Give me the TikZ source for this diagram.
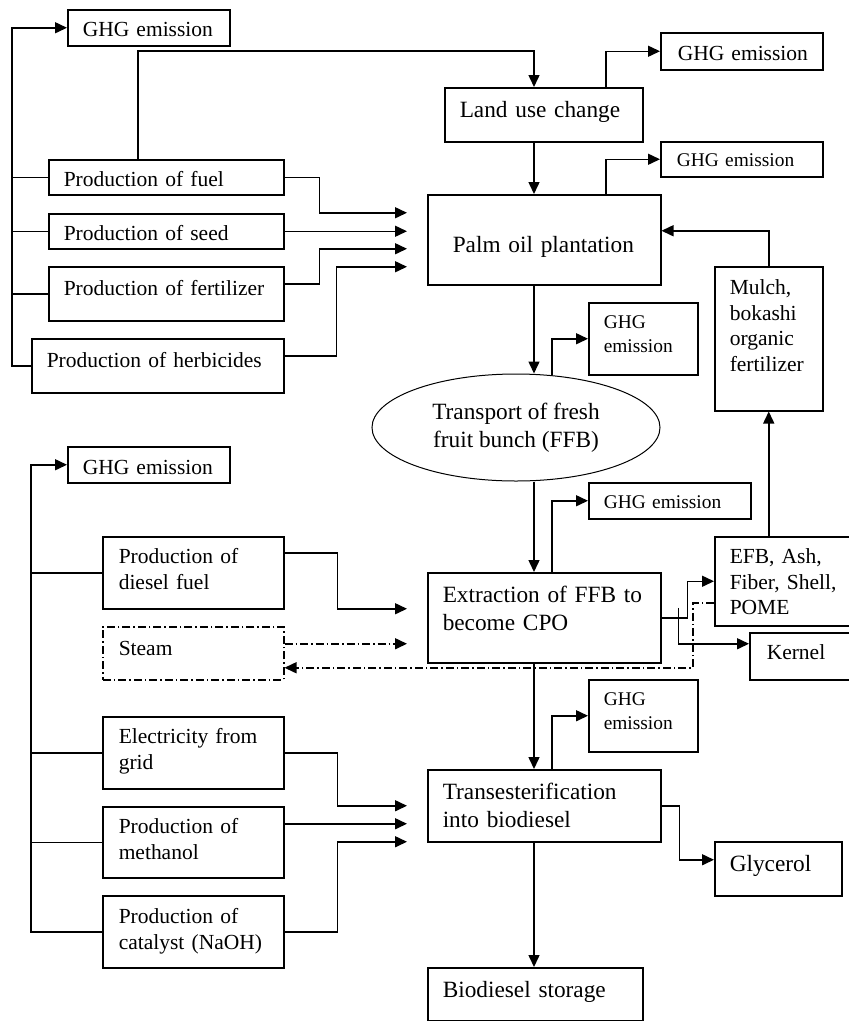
\documentclass[tikz,border=0pt]{standalone}
\usepackage{fontspec}
\setmainfont{Liberation Serif}
\usetikzlibrary{arrows.meta,calc,shapes.geometric}

\tikzset{
  box/.style={draw, line width=1.5pt, anchor=north west, align=left,
    inner xsep=0pt, inner ysep=0pt, execute at begin node={\leftskip=15pt}},
  sidetxt/.style={font=\fontsize{21.5}{25.5}\selectfont},
  maintxt/.style={font=\fontsize{23.3}{28}\selectfont},
  notetxt/.style={font=\fontsize{19.4}{23.5}\selectfont},
  flow/.style={line width=1.5pt, -{Triangle[length=12pt,width=11pt]}},
  ddline/.style={dash pattern=on 8pt off 3pt on 1.5pt off 3pt},
}

\begin{document}
\begin{tikzpicture}[x=1pt,y=-1pt]
\useasboundingbox (0,0) rectangle (849,1021);

% upstream inputs
\node[box, sidetxt, text width=162pt, text height=27pt, text depth=9pt] (ghgA) at (67,9) {GHG emission};
\node[box, sidetxt, text width=235pt, text height=27pt, text depth=8pt] (fuel) at (48,159) {Production of fuel};
\node[box, sidetxt, text width=235pt, text height=27pt, text depth=8pt] (seed) at (48,213) {Production of seed};
\node[box, sidetxt, text width=235pt, text height=29pt, text depth=25pt] (fert) at (48,266) {Production of fertilizer};
\node[box, sidetxt, text width=252pt, text height=29pt, text depth=25pt] (herb) at (31,338) {Production of herbicides};

% main chain
\node[box, maintxt, text width=198pt, text height=30pt, text depth=24pt] (land) at (444,87) {Land use change};
\node[box, maintxt, text width=233pt, text height=58pt, text depth=32pt,
  execute at begin node={\leftskip=25pt}] (plant) at (427,194) {Palm oil plantation};
\node[draw, ellipse, line width=1pt, inner sep=0pt, minimum width=288pt, minimum height=107pt,
  maintxt, align=center] (trans) at (516,427.5) {Transport of fresh\\fruit bunch (FFB)};
\node[box, maintxt, text width=233pt, text height=30pt, text depth=60pt] (extr) at (427,572) {Extraction of FFB to\\become CPO};
\node[box, maintxt, text width=233pt, text height=30pt, text depth=42pt] (tran) at (427,769) {Transesterification\\into biodiesel};
\node[box, maintxt, text width=215pt, text height=30pt, text depth=22.5pt] (store) at (427,967) {Biodiesel storage};

% emissions
\node[box, sidetxt, text width=162pt, text height=28pt, text depth=9pt, execute at begin node={\leftskip=17pt}] (ghgB) at (660,32) {GHG emission};
\node[box, notetxt, text width=162pt, text height=25pt, text depth=10pt, execute at begin node={\leftskip=16pt}] (ghgC) at (660,141) {GHG emission};
\node[box, notetxt, text width=109pt, text height=26pt, text depth=46pt] (ghgD) at (588,302) {GHG\\emission};
\node[box, sidetxt, text width=162pt, text height=28pt, text depth=8pt] (ghgE) at (67,446) {GHG emission};
\node[box, notetxt, text width=162pt, text height=26pt, text depth=10pt] (ghgF) at (588,482) {GHG emission};
\node[box, notetxt, text width=109pt, text height=26pt, text depth=46pt] (ghgG) at (588,679) {GHG\\emission};

% by-products
\node[box, sidetxt, text width=108pt, text height=28pt, text depth=116pt] (mulch) at (714,266) {Mulch,\\bokashi\\organic\\fertilizer};
\node[box, sidetxt, text width=160pt, text height=27pt, text depth=62pt] (efb) at (714,536) {EFB, Ash,\\Fiber, Shell,\\POME};
\node[box, sidetxt, text width=120pt, text height=27pt, text depth=20pt, execute at begin node={\leftskip=17pt}] (kernel) at (749,632) {Kernel};
\node[box, maintxt, text width=127pt, text height=30pt, text depth=24pt] (glyc) at (714,841) {Glycerol};

% processing inputs
\node[box, sidetxt, text width=181pt, text height=27pt, text depth=45pt, execute at begin node={\leftskip=16pt}] (diesel) at (102,536) {Production of\\diesel fuel};
\node[box, sidetxt, ddline, text width=181pt, text height=29pt, text depth=24pt, execute at begin node={\leftskip=16pt}] (steam) at (102,626) {Steam};
\node[box, sidetxt, text width=181pt, text height=27pt, text depth=45pt, execute at begin node={\leftskip=16pt}] (elec) at (102,716) {Electricity from\\grid};
\node[box, sidetxt, text width=181pt, text height=27pt, text depth=44pt, execute at begin node={\leftskip=16pt}] (meth) at (102,806) {Production of\\methanol};
\node[box, sidetxt, text width=181pt, text height=28pt, text depth=44pt, execute at begin node={\leftskip=16pt}] (cat) at (102,895) {Production of\\catalyst (NaOH)};

\coordinate (busA) at (12,0);
\coordinate (busB) at (31,0);
\coordinate (spine) at (534,0);
\coordinate (upA) at (606,0);
\coordinate (upB) at (552,0);
\coordinate (pinA) at ($(plant.west)+(-20,0)$);
\coordinate (pinB) at ($(extr.west)+(-20,0)$);
\coordinate (pinC) at ($(tran.west)+(-20,0)$);
\coordinate (pinM) at ($(pinC)+(0,18)$);

% plantation stage
\draw[flow] (herb.west) -- (herb.west -| busA) |- (ghgA.west);
\foreach \n in {fuel,seed,fert}
  \draw[line width=1.5pt] (\n.west) -- (\n.west -| busA);
\draw[flow] ($(fuel.north west)+(90,0)$) |- ($(land.north -| spine)+(0,-36)$) -- (land.north -| spine);
\draw[flow] (land.north -| upA) |- (ghgB.west);
\draw[flow] (land.south -| spine) -- (plant.north -| spine);
\draw[flow] (plant.north -| upA) |- (ghgC.west);
\draw[flow] (fuel.east) -- ++(35,0) |- ($(pinA)+(0,-27)$);
\draw[flow] (seed.east) -- (seed.east -| pinA);
\draw[flow] ($(fert.north east)+(0,18)$) -- ++(35,0) |- ($(pinA)+(0,9)$);
\draw[flow] ($(herb.north east)+(0,18)$) -- ++(52,0) |- ($(pinA)+(0,27)$);
\draw[flow] (mulch.north) |- ($(plant.east)+(0,-9)$);

% transport and mill
\draw[flow] (plant.south -| spine) -- (trans.north -| spine);
\draw[flow] ($(trans.north -| upB)+(0,1.7)$) |- (ghgD.west);
\draw[flow] (trans.south -| spine) -- (extr.north -| spine);
\draw[flow] (extr.north -| upB) |- (ghgF.west);
\draw[flow] (cat.west) -- (cat.west -| busB) |- (ghgE.west);
\foreach \n in {diesel,elec,meth}
  \draw[line width=1.5pt] (\n.west) -- (\n.west -| busB);
\draw[flow] ($(diesel.north east)+(0,17)$) -- ++(53,0) |- ($(pinB)+(0,-9)$);
\draw[flow, ddline] ($(steam.east)+(0,-9.5)$) -- ($(pinB)+(0,26)$);
\draw[flow, ddline] ($(efb.west)+(0,21.5)$) -- ++(-21,0) |- ($(steam.east)+(0,14.5)$);
\draw[flow] (extr.east) -- ++(26,0) |- (efb.west);
\draw[flow] ($(extr.east)+(17,-10)$) |- ($(kernel.west)+(0,-12.5)$);
\draw[flow] (mulch.south |- efb.north) -- (mulch.south);

% biodiesel stage
\draw[flow] (extr.south -| spine) -- (tran.north -| spine);
\draw[flow] (tran.north -| upB) |- (ghgG.west);
\draw[flow] (elec.east) -- ++(53,0) |- (pinC);
\draw[flow] (meth.east |- pinM) -- (pinM);
\draw[flow] (cat.east) -- ++(53,0) |- ($(pinC)+(0,36)$);
\draw[flow] (tran.east) -- ++(18,0) |- ($(glyc.west)+(0,-9)$);
\draw[flow] (tran.south -| spine) -- (store.north -| spine);
\end{tikzpicture}
\end{document}
